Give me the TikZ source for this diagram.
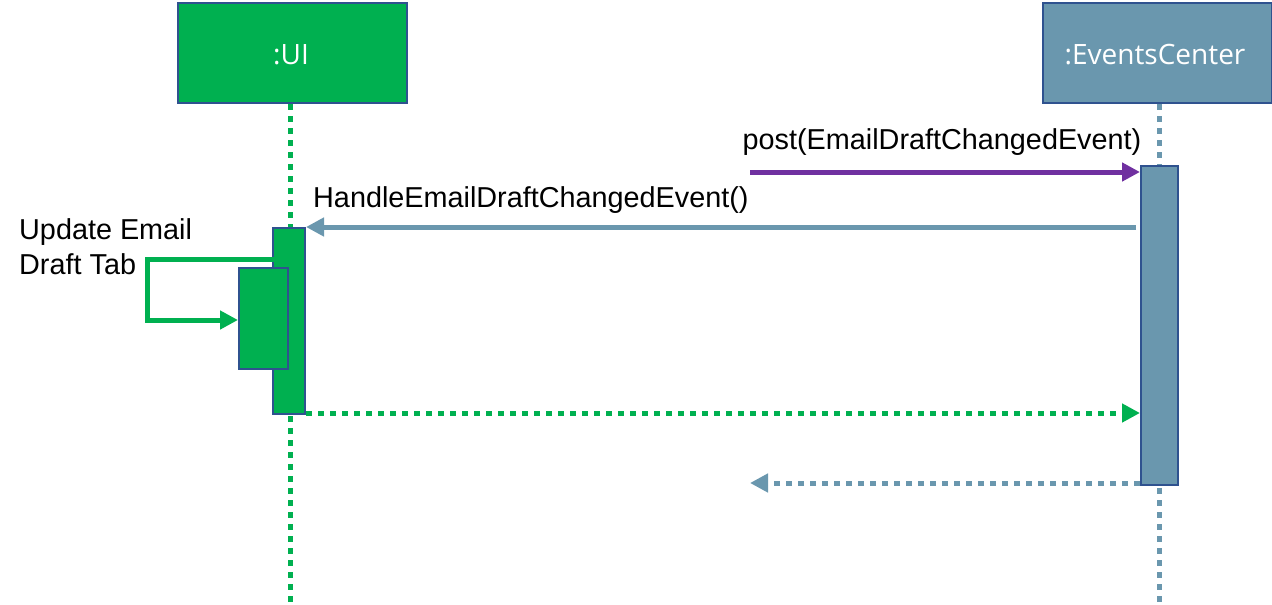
\documentclass[tikz,border=0pt]{standalone}
\usepackage{fontspec}
\setmainfont{Liberation Sans}
\newfontfamily\boxfont{Open Sans}
\usetikzlibrary{arrows.meta}
\definecolor{uigreen}{HTML}{00B050}
\definecolor{evblue}{HTML}{6A97AE}
\definecolor{msgpurple}{HTML}{7030A0}
\definecolor{edgeblue}{HTML}{2F528F}
\tikzset{
  x=1pt, y=-1pt,
  objbox/.style={draw=edgeblue, line width=2pt, minimum width=229pt, minimum height=100pt,
    inner sep=0pt, text=white, font=\boxfont\fontsize{28}{32}\selectfont},
  actbar/.style={draw=edgeblue, line width=2pt, inner sep=0pt},
  lifeline/.style={line width=5pt, dash pattern=on 6pt off 6pt},
  msg/.style={line width=5pt, -{Triangle[length=18pt,width=18pt]}},
  retmsg/.style={line width=5pt, dash pattern=on 6pt off 6pt, -{Triangle[length=18pt,width=18pt]}},
  lbl/.style={font=\fontsize{28.8}{35}\selectfont, inner sep=0pt, anchor=base west},
}
\begin{document}
\begin{tikzpicture}
\useasboundingbox (0,0) rectangle (1272,605);
% objects
\node[objbox, fill=uigreen, anchor=north west] (ui) at (177,2) {};
\node[objbox, fill=evblue, anchor=north west] (ec) at (1042,2) {};
\node[text=white, font=\boxfont\fontsize{28}{32}\selectfont, anchor=base, inner sep=0pt] (uit) at (291,64) {:UI};
\node[text=white, font=\boxfont\fontsize{28}{32}\selectfont, anchor=base, inner sep=0pt] (ect) at (1155,64) {:EventsCenter};
% lifelines
\coordinate (uiend) at (290,605);
\coordinate (ecend) at (1159,605);
\draw[lifeline, uigreen] (ui.south -| uiend) -- (uiend);
\draw[lifeline, evblue] (ec.south -| ecend) -- (ecend);
% activation bars
\node[actbar, fill=evblue, minimum width=37pt, minimum height=319pt, anchor=north west] (ecact) at (1140,165) {};
\node[actbar, fill=uigreen, minimum width=32pt, minimum height=186pt, anchor=north west] (uiact) at (272,227) {};
% self call
\coordinate (selfa) at (275,259);
\coordinate (selfb) at (147,259);
\coordinate (selfc) at (147,320);
\node[actbar, fill=uigreen, minimum width=49pt, minimum height=101pt, anchor=north west] (inact) at (238,267) {};
\draw[line width=5pt, uigreen, -{Triangle[length=18pt,width=18pt]}] (selfa) -- (selfb) -- (selfc) -- (inact.west |- selfc);
% messages
\coordinate (posts) at (750,172);
\draw[msg, msgpurple] (posts) -- (ecact.west |- posts);
\node[lbl, anchor=base] (postl) at (942,149) {post(EmailDraftChangedEvent)};
\coordinate (hs) at (1136,227);
\draw[msg, evblue] (hs) -- (uiact.east |- hs);
\node[lbl] (hl) at (313,207) {HandleEmailDraftChangedEvent()};
\node[lbl, align=left, anchor=base west] (ul) at (19,274) {Update Email\\Draft Tab};
\coordinate (r1) at (0,413);
\draw[retmsg, uigreen] (uiact.east |- r1) -- (ecact.west |- r1);
\coordinate (r2e) at (750,483);
\draw[retmsg, evblue] (ecact.west |- r2e) -- (r2e);
\end{tikzpicture}
\end{document}
